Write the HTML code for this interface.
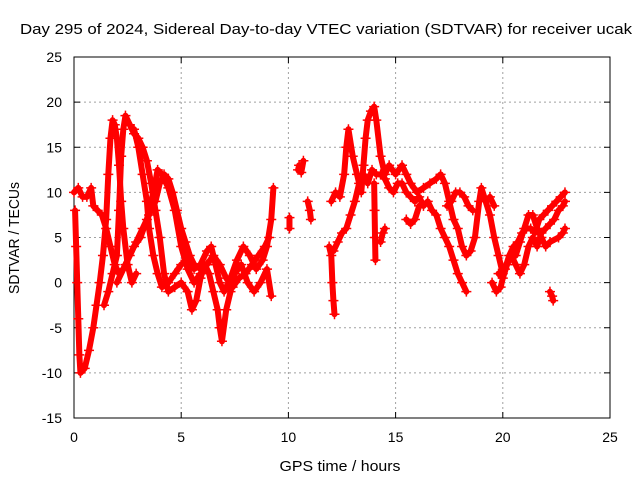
<!DOCTYPE html>
<html><head><meta charset="utf-8"><style>
body{margin:0;background:#fff}
svg{display:block;font-family:"Liberation Sans",Arial,sans-serif}
</style></head><body>
<svg id="chart" width="640" height="480" viewBox="0 0 640 480">
<rect width="640" height="480" fill="#fff"/>
<text x="326" y="34" text-anchor="middle" font-size="15" textLength="612" lengthAdjust="spacingAndGlyphs" fill="#000">Day 295 of 2024, Sidereal Day-to-day VTEC variation (SDTVAR) for receiver ucak</text>
<g id="grid"></g>
<g id="axes"></g>
<g id="marks"></g>
<text x="340" y="471" text-anchor="middle" font-size="15" textLength="121" lengthAdjust="spacingAndGlyphs">GPS time / hours</text>
<text transform="translate(19,238) rotate(-90)" text-anchor="middle" font-size="15" textLength="112" lengthAdjust="spacingAndGlyphs">SDTVAR / TECUs</text>
</svg>
<script>
const xTicks=[0,5,10,15,20,25];
const yTicks=[-15,-10,-5,0,5,10,15,20,25];
const track1=[[0,10],[0.2,10.5],[0.4,9.5],[0.6,9.5],[0.8,10.5],[0.9,8.5],[1.1,8],[1.3,7.5],[1.5,6],[1.7,4],[1.9,2],[2.1,1],[2.3,1.5],[2.6,3],[2.9,4.5],[3.2,6],[3.5,7.5],[3.8,9],[4.0,11],[4.2,12],[4.4,11.5],[4.6,10],[4.8,8],[5.0,6],[5.2,4.5],[5.4,3],[5.6,2],[5.9,1.5],[6.2,2],[6.5,3],[6.8,2],[7.1,0.5],[7.4,-0.5],[7.7,0.5],[8.0,1],[8.3,2],[8.6,3],[8.9,4],[9.1,5]];
const track2=[[0.05,8],[0.1,4],[0.15,0],[0.2,-4],[0.25,-8],[0.3,-10],[0.5,-9.5],[0.7,-7.5],[0.9,-5],[1.05,-2.5],[1.2,0],[1.35,3],[1.5,7],[1.6,12],[1.7,16],[1.8,18],[1.9,17.5],[2.0,16],[2.1,13],[2.2,9],[2.3,6],[2.5,2],[2.7,0],[2.9,1]];
const track3=[[1.4,-2.5],[1.6,-1],[1.8,1],[2.0,3],[2.1,8],[2.2,14],[2.3,17],[2.4,18.5],[2.6,17.5],[2.8,16.5],[3.0,16],[3.2,15],[3.4,13.5],[3.6,11],[3.8,8],[4.0,5],[4.2,1],[4.4,-1],[4.7,-0.5],[5.0,0],[5.3,-1],[5.5,-3],[5.7,-2],[5.9,0.5],[6.1,2],[6.3,1],[6.5,-1],[6.7,-3],[6.8,-5],[6.9,-6.5],[7.1,-3],[7.3,-1],[7.5,1],[7.8,2],[8.1,0],[8.4,-1],[8.7,0],[9.0,1.5],[9.2,-1.5]];
const track4=[[2.8,17],[3.0,15],[3.2,12],[3.4,9],[3.5,6],[3.7,3],[3.9,1],[4.1,-0.5],[4.4,0],[4.7,1],[5.0,2],[5.3,2.5],[5.6,1.5],[5.9,2],[6.2,3.5],[6.4,4],[6.6,2],[6.8,0],[7.0,-1],[7.3,0.5],[7.6,2.5],[7.9,4],[8.2,3],[8.5,1.5],[8.8,2.5],[9.0,4],[9.2,7],[9.3,10.5]];
const track5=[[2.0,0],[2.4,2],[2.8,4],[3.1,5],[3.4,7],[3.7,10],[3.9,12.5],[4.1,12],[4.4,10.5],[4.7,8],[5.0,4],[5.3,1.5],[5.6,0],[5.9,1],[6.2,2]];
const track6=[[10.05,7.2],[10.05,6]];
const track7=[[10.45,12.5],[10.5,13],[10.6,12.2],[10.7,13.5]];
const track8=[[10.9,9],[11.0,8],[11.05,7]];
const track9=[[11.9,4],[12.0,3],[12.05,0],[12.1,-2],[12.15,-3.5]];
const track10=[[12.1,3.5],[12.3,4.5],[12.5,5.5],[12.7,6],[12.9,7.5],[13.1,9],[13.3,11],[13.5,12],[13.7,11],[13.9,12.5],[14.1,12],[14.3,12],[14.5,11.5],[14.7,10.5],[14.9,10],[15.1,11],[15.3,11],[15.5,10],[15.7,9.5],[15.9,9],[16.1,9.5],[16.3,8.5],[16.5,9],[16.7,8],[16.9,7.5],[17.1,6],[17.3,5],[17.5,4],[17.7,2.5],[17.9,1],[18.1,0],[18.3,-1]];
const track11=[[12.0,9],[12.2,10],[12.4,9.5],[12.6,12],[12.7,15],[12.8,17],[13.0,14],[13.2,12],[13.4,10],[13.5,13],[13.6,16],[13.7,18],[13.85,19],[14.0,19.5],[14.1,18],[14.3,14],[14.5,12],[14.7,13],[15.0,12],[15.3,13],[15.5,12],[15.7,11],[16.0,10],[16.3,10.5],[16.6,11],[16.9,11.5],[17.1,12],[17.3,11],[17.5,9],[17.7,7],[17.9,6],[18.1,4],[18.3,3],[18.5,3.5],[18.7,5],[18.9,9],[19.0,10.5],[19.2,9],[19.4,7.5],[19.6,5],[19.8,3],[20.0,1]];
const track12=[[14.0,11],[14.02,8],[14.04,5],[14.06,2.5]];
const track13=[[14.3,4.5],[14.4,5.5],[14.5,6]];
const track14=[[15.5,7],[15.7,6.5],[15.9,7],[16.1,8.5]];
const track15=[[17.4,8.5],[17.6,9],[17.8,10],[18.0,10],[18.2,9.5],[18.4,8.5],[18.6,8]];
const track16=[[19.2,9],[19.4,9.5],[19.6,8.5]];
const track17=[[19.5,0],[19.7,-1],[19.9,-0.5],[20.1,1.5],[20.3,3],[20.5,4],[20.7,4.5],[20.9,5.5],[21.1,6],[21.3,6],[21.5,5.5],[21.7,7],[21.9,7.5],[22.1,8],[22.3,8.5],[22.5,9],[22.7,9.5],[22.9,10]];
const track18=[[19.8,1],[20.0,0.5],[20.2,2],[20.4,3],[20.6,2],[20.8,1],[21.0,2],[21.2,4],[21.4,5],[21.6,4],[21.8,5.5],[22.0,6],[22.2,6.5],[22.4,7],[22.6,8],[22.8,8.5],[22.9,9]];
const track19=[[20.6,3],[20.8,4.5],[21.0,6],[21.2,7.5],[21.4,7.5],[21.6,6],[21.8,5],[22.0,4],[22.2,4.5],[22.6,5],[22.8,5.5],[22.9,6]];
const track20=[[22.2,-1],[22.3,-1.5],[22.35,-2]];
const tracks=[track1,track2,track3,track4,track5,track6,track7,track8,track9,track10,track11,track12,track13,track14,track15,track16,track17,track18,track19,track20];

const X0=74,X1=610,Y0=418,Y1=57,xmin=0,xmax=25,ymin=-15,ymax=25;
const xs=v=>X0+(v-xmin)/(xmax-xmin)*(X1-X0);
const ys=v=>Y0-(v-ymin)/(ymax-ymin)*(Y0-Y1);
const NS="http://www.w3.org/2000/svg";
function mk(tag,attrs,parent){const e=document.createElementNS(NS,tag);for(const k in attrs)e.setAttribute(k,attrs[k]);parent.appendChild(e);return e;}
const grid=document.getElementById('grid'),axes=document.getElementById('axes'),marks=document.getElementById('marks');
xTicks.forEach(t=>{
  const x=xs(t);
  if(t>xmin&&t<xmax){const g=mk('line',{x1:x,x2:x,y1:Y1,y2:Y0,stroke:'#a0a0a0','stroke-dasharray':'2,3'},grid);
  
  }
  mk('line',{x1:x,x2:x,y1:Y0,y2:Y0-6,stroke:'#000'},axes);
  mk('line',{x1:x,x2:x,y1:Y1,y2:Y1+6,stroke:'#000'},axes);
  const l=mk('text',{x:x,y:Y0+24,'text-anchor':'middle','font-size':'14'},axes);l.textContent=t;
  
  
});
yTicks.forEach(t=>{
  const y=ys(t);
  if(t>ymin&&t<ymax){const g=mk('line',{x1:X0,x2:X1,y1:y,y2:y,stroke:'#a0a0a0','stroke-dasharray':'2,3'},grid);
  
  }
  mk('line',{x1:X0,x2:X0+6,y1:y,y2:y,stroke:'#000'},axes);
  mk('line',{x1:X1,x2:X1-6,y1:y,y2:y,stroke:'#000'},axes);
  const l=mk('text',{x:X0-12,y:y+5,'text-anchor':'end','font-size':'14'},axes);l.textContent=t;
  
  
});
const fr=mk('rect',{x:X0,y:Y1,width:X1-X0,height:Y0-Y1,fill:'none',stroke:'#000'},axes);


tracks.forEach((tr,i)=>{
  const pl=mk('polyline',{points:tr.map(p=>xs(p[0])+','+ys(p[1])).join(' '),fill:'none',stroke:'#f00','stroke-width':6,'stroke-linejoin':'round','stroke-linecap':'round'},marks);
  
  
  tr.forEach(p=>{
    const x=xs(p[0]),y=ys(p[1]);
    const m=mk('path',{d:`M${x-5},${y}h10M${x},${y-5}v10`,stroke:'#f00','stroke-width':1.5},marks);
    
    
  });
});
</script>
</body></html>
